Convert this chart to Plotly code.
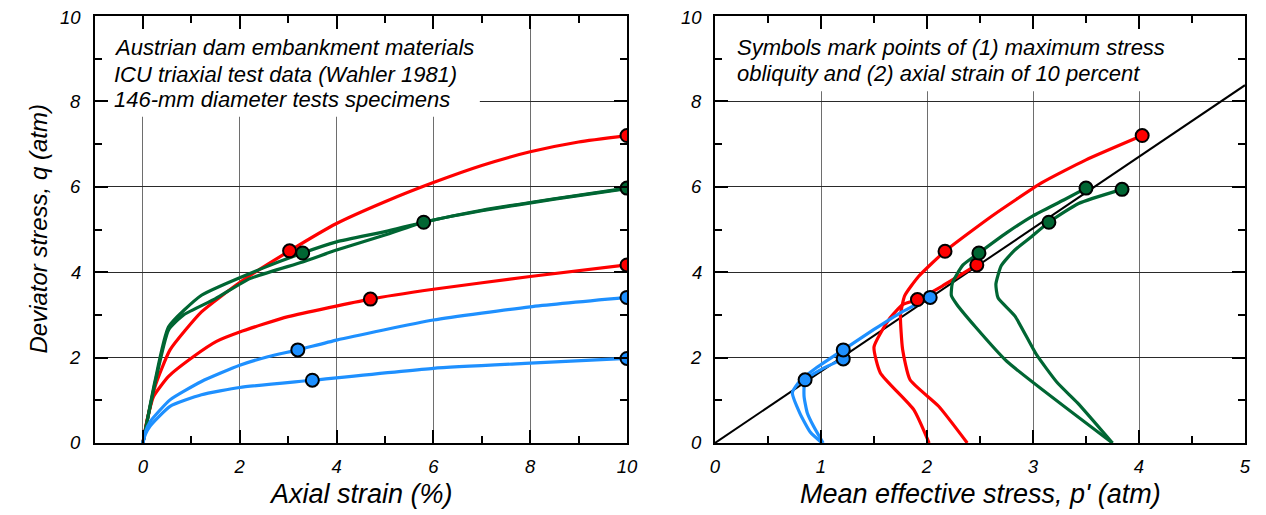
import plotly.graph_objects as go

# ---------------- data: left panel (axial strain %, deviator stress q atm) ----------------
red_a_strain = [0, 0.1, 0.25, 0.56, 1.21, 2.0, 3.03, 4.0, 5.0, 6.0, 7.0, 8.0, 9.0, 10.0]
red_a_q      = [0, 0.6, 1.32, 2.18, 3.07, 3.76, 4.5, 5.14, 5.65, 6.1, 6.5, 6.82, 7.05, 7.2]
red_b_strain = [0, 0.08, 0.22, 0.53, 1.04, 1.52, 2.0, 3.0, 4.7, 6.0, 8.0, 10.0]
red_b_q      = [0, 0.5, 1.09, 1.56, 2.02, 2.38, 2.6, 2.96, 3.37, 3.6, 3.9, 4.17]
green_a_strain = [0, 0.25, 0.53, 1.21, 2.4, 3.3, 4.0, 5.0, 5.8, 7.0, 8.5, 10.0]
green_a_q      = [0, 1.45, 2.72, 3.46, 4.06, 4.45, 4.71, 4.95, 5.17, 5.45, 5.72, 5.97]
green_b_strain = [0, 0.25, 0.53, 0.84, 1.5, 2.21, 3.3, 4.0, 5.0, 5.8, 7.0, 8.5, 10.0]
green_b_q      = [0, 1.4, 2.65, 3.0, 3.38, 3.85, 4.24, 4.52, 4.87, 5.17, 5.44, 5.71, 5.96]
blue_a_strain = [0, 0.05, 0.15, 0.56, 1.21, 2.0, 2.58, 3.2, 4.0, 6.0, 8.0, 10.0]
blue_a_q      = [0, 0.25, 0.5, 1.01, 1.44, 1.82, 2.02, 2.18, 2.41, 2.88, 3.19, 3.41]
blue_b_strain = [0, 0.05, 0.15, 0.56, 1.21, 2.0, 3.5, 6.0, 8.0, 10.0]
blue_b_q      = [0, 0.2, 0.4, 0.86, 1.13, 1.3, 1.47, 1.75, 1.87, 1.98]

# marked points, left panel
red_mk_strain = [3.03, 10.0, 4.7, 10.0]
red_mk_q      = [4.5, 7.2, 3.37, 4.17]
green_mk_strain = [3.3, 5.8, 10.0]
green_mk_q      = [4.45, 5.17, 5.97]
blue_mk_strain = [3.2, 10.0, 3.5, 10.0]
blue_mk_q      = [2.18, 3.41, 1.47, 1.98]

# ---------------- data: right panel (mean effective stress p', q) ----------------
red_a_p  = [2.38, 2.11, 1.84, 1.77, 1.75, 1.79, 1.92, 2.17, 2.61, 3.08, 3.5, 4.03]
red_a_pq = [0, 0.86, 1.48, 2.19, 3.0, 3.45, 3.9, 4.49, 5.31, 6.09, 6.63, 7.2]
red_b_p  = [2.02, 1.875, 1.56, 1.5, 1.64, 1.77, 1.91, 2.14, 2.47]
red_b_pq = [0, 0.78, 1.64, 2.25, 2.89, 3.24, 3.36, 3.67, 4.17]
green_a_p  = [3.75, 2.75, 2.46, 2.28, 2.23, 2.24, 2.34, 2.49, 2.75, 3.0, 3.29, 3.5]
green_a_pq = [0, 1.92, 2.71, 3.25, 3.45, 3.75, 4.17, 4.45, 4.92, 5.32, 5.69, 5.97]
green_b_p  = [3.75, 3.42, 3.23, 3.03, 2.83, 2.67, 2.65, 2.70, 2.82, 2.97, 3.15, 3.43, 3.84]
green_b_pq = [0, 0.94, 1.41, 2.08, 2.97, 3.40, 3.72, 4.15, 4.5, 4.8, 5.17, 5.61, 5.94]
blue_a_p  = [1.01, 0.9, 0.8, 0.73, 0.8, 0.95, 1.21, 1.5, 1.75, 2.03]
blue_a_pq = [0, 0.25, 0.7, 1.18, 1.45, 1.75, 2.18, 2.66, 3.05, 3.41]
blue_b_p  = [1.02, 0.93, 0.87, 0.84, 0.85, 1.0, 1.21]
blue_b_pq = [0, 0.39, 0.71, 1.1, 1.48, 1.72, 1.97]
envelope_p = [0, 5]
envelope_q = [0, 8.38]

red_mk_p  = [2.17, 4.03, 1.91, 2.47]
red_mk_pq = [4.49, 7.2, 3.36, 4.17]
green_mk_p  = [2.49, 3.5, 3.15, 3.84]
green_mk_pq = [4.45, 5.97, 5.17, 5.94]
blue_mk_p  = [0.85, 1.21, 1.21, 2.03]
blue_mk_pq = [1.48, 1.97, 2.18, 3.41]

# y tick labels (same on both panels)
q_tick_values = [0, 2, 4, 6, 8, 10]
q_tick_labels = ["0", "2", "4", "6", "8", "10"]

left_note = ["Austrian dam embankment materials",
             "ICU triaxial test data (Wahler 1981)",
             "146-mm diameter tests specimens"]
right_note = ["Symbols mark points of (1) maximum stress",
              "obliquity and (2) axial strain of 10 percent"]

RED = "#FF0000"
GREEN = "#006633"
BLUE = "#1E90FF"
FONT = "Liberation Sans, Arial, sans-serif"

# the page places the figure 8 px in from the window's top-left corner
OX, OY = 8, 8
W, H = 1266 - OX, 515 - OY

def px(x):
    return (x - OX) / W

def py(y):
    return (H - (y - OY)) / H

fig = go.Figure()

def curve(x, y, color, xa, ya):
    fig.add_trace(go.Scatter(x=x, y=y, mode="lines", xaxis=xa, yaxis=ya,
                             line=dict(color=color, width=3.2, shape="spline", smoothing=0.5),
                             showlegend=False, hoverinfo="skip"))

def marks(x, y, color, xa, ya):
    fig.add_trace(go.Scatter(x=x, y=y, mode="markers", xaxis=xa, yaxis=ya,
                             marker=dict(color=color, size=13, line=dict(color="black", width=2)),
                             showlegend=False, hoverinfo="skip"))

# left panel
curve(red_a_strain, red_a_q, RED, "x", "y")
curve(red_b_strain, red_b_q, RED, "x", "y")
curve(green_a_strain, green_a_q, GREEN, "x", "y")
curve(green_b_strain, green_b_q, GREEN, "x", "y")
curve(blue_a_strain, blue_a_q, BLUE, "x", "y")
curve(blue_b_strain, blue_b_q, BLUE, "x", "y")
marks(red_mk_strain, red_mk_q, RED, "x", "y")
marks(green_mk_strain, green_mk_q, GREEN, "x", "y")
marks(blue_mk_strain, blue_mk_q, BLUE, "x", "y")

# right panel
fig.add_trace(go.Scatter(x=envelope_p, y=envelope_q, mode="lines", xaxis="x2", yaxis="y2",
                         line=dict(color="black", width=2), showlegend=False, hoverinfo="skip"))
curve(red_a_p, red_a_pq, RED, "x2", "y2")
curve(red_b_p, red_b_pq, RED, "x2", "y2")
curve(green_a_p, green_a_pq, GREEN, "x2", "y2")
curve(green_b_p, green_b_pq, GREEN, "x2", "y2")
curve(blue_a_p, blue_a_pq, BLUE, "x2", "y2")
curve(blue_b_p, blue_b_pq, BLUE, "x2", "y2")
marks(red_mk_p, red_mk_pq, RED, "x2", "y2")
marks(green_mk_p, green_mk_pq, GREEN, "x2", "y2")
marks(blue_mk_p, blue_mk_pq, BLUE, "x2", "y2")

tickfont = dict(family=FONT, size=18.5, color="black", style="italic")

def axis_common(dtick, minor_dtick, gridcolor):
    return dict(showline=True, linecolor="black", linewidth=2, mirror="ticks",
                ticks="inside", ticklen=13, tickwidth=2, tickcolor="black",
                tick0=0, dtick=dtick, showgrid=True, gridcolor=gridcolor, gridwidth=1,
                zeroline=False, tickfont=tickfont, fixedrange=True, automargin=False,
                ticklabeloverflow="allow",
                minor=dict(ticks="inside", ticklen=7, tickwidth=2, tickcolor="black",
                           dtick=minor_dtick, tick0=0, showgrid=False))

Y_BOTTOM, Y_TOP = 443, 16
LEFT_X0, LEFT_X1 = 94.5, 627
RIGHT_X0, RIGHT_X1 = 715, 1245
ydom = [py(Y_BOTTOM), py(Y_TOP)]
fig.update_layout(
    template="none",
    width=W, height=H, margin=dict(l=0, r=0, t=0, b=0, autoexpand=False),
    paper_bgcolor="white", plot_bgcolor="white",
    xaxis=dict(domain=[px(LEFT_X0), px(LEFT_X1)], range=[-1, 10], anchor="y",
               ticklabelstandoff=6, **axis_common(2, 1, "#6e6e6e")),
    yaxis=dict(domain=ydom, range=[0, 10], anchor="x", showticklabels=False,
               **axis_common(2, 1, "#2a2a2a")),
    xaxis2=dict(domain=[px(RIGHT_X0), px(RIGHT_X1)], range=[0, 5], anchor="y2",
                ticklabelstandoff=6, **axis_common(1, 0.5, "#6e6e6e")),
    yaxis2=dict(domain=ydom, range=[0, 10], anchor="x2", showticklabels=False,
                **axis_common(2, 1, "#2a2a2a")),
)

# y tick labels placed beside each y axis (value -> pixel through the axis range)
for axis_x in (LEFT_X0, RIGHT_X0 + 0.5):
    for val, lab in zip(q_tick_values, q_tick_labels):
        ypix = Y_BOTTOM - (Y_BOTTOM - Y_TOP) * val / 10.0
        ypix = max(ypix, Y_TOP + 1.5)
        fig.add_annotation(text=lab, xref="paper", yref="paper", x=px(axis_x - 12.5), y=py(ypix),
                           xanchor="right", yanchor="middle", showarrow=False,
                           font=tickfont, borderpad=0)

# white boxes behind the notes (between gridlines and traces)
fig.add_shape(type="rect", xref="x", yref="y", x0=-1, x1=6.96, y0=7.64, y1=9.95,
              fillcolor="white", line=dict(width=0), layer="between")
fig.add_shape(type="rect", xref="x2", yref="y2", x0=0, x1=4.7, y0=8.24, y1=9.95,
              fillcolor="white", line=dict(width=0), layer="between")

notefont = dict(family=FONT, size=22, color="black", style="italic")
for txt, ypx in zip(left_note, [48, 74, 99.5]):
    fig.add_annotation(text=txt, xref="paper", yref="paper", x=px(112), y=py(ypx),
                       xanchor="left", yanchor="middle", showarrow=False, font=notefont)
for txt, ypx in zip(right_note, [48, 73.5]):
    fig.add_annotation(text=txt, xref="paper", yref="paper", x=px(735), y=py(ypx),
                       xanchor="left", yanchor="middle", showarrow=False, font=notefont)

ytitlefont = dict(family=FONT, size=24, color="black", style="italic")
xtitlefont = dict(family=FONT, size=27, color="black", style="italic")
fig.add_annotation(text="Deviator stress, q (atm)", xref="paper", yref="paper",
                   x=px(38), y=(ydom[0] + ydom[1]) / 2, textangle=-90,
                   xanchor="center", yanchor="middle", showarrow=False, font=ytitlefont)
fig.add_annotation(text="Axial strain (%)", xref="paper", yref="paper",
                   x=px((LEFT_X0 + LEFT_X1) / 2), y=py(494),
                   xanchor="center", yanchor="middle", showarrow=False, font=xtitlefont)
fig.add_annotation(text="Mean effective stress, p' (atm)", xref="paper", yref="paper",
                   x=px((RIGHT_X0 + RIGHT_X1) / 2), y=py(494),
                   xanchor="center", yanchor="middle", showarrow=False, font=xtitlefont)

fig.write_html("out.html")
